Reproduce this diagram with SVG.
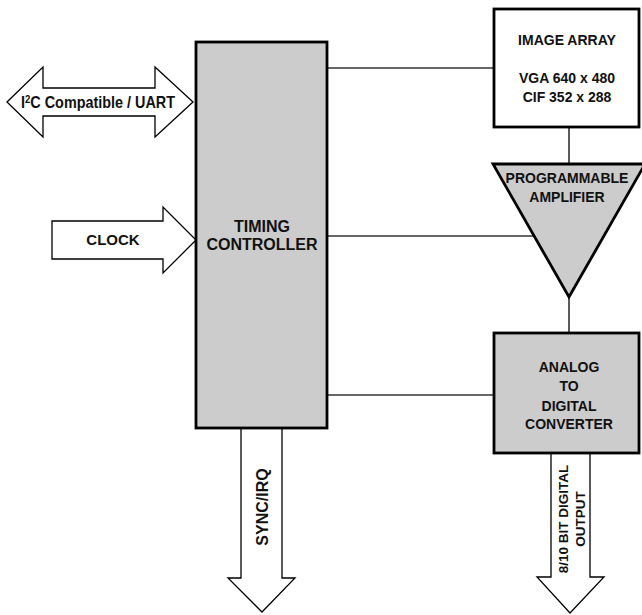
<svg xmlns="http://www.w3.org/2000/svg" width="642" height="615" viewBox="0 0 642 615">
<style>
text{font-family:"Liberation Sans",Arial,sans-serif;font-weight:bold;fill:#111;text-anchor:middle}
.box{stroke:#000;stroke-width:2.8}
.gray{fill:#cccccc}
.white{fill:#ffffff}
.arrow{fill:#ffffff;stroke:#000;stroke-width:1.3;stroke-linejoin:miter}
.wire{stroke:#333;stroke-width:1.6;fill:none}
.t14{font-size:14px}
</style>
<rect width="642" height="615" fill="#ffffff"/>
<g id="connectors">
<line class="wire" x1="327" y1="68" x2="494" y2="68"/>
<line class="wire" x1="327" y1="236" x2="533" y2="236"/>
<line class="wire" x1="327" y1="395" x2="494" y2="395"/>
<line class="wire" x1="569" y1="127" x2="569" y2="164"/>
<line class="wire" x1="569" y1="297" x2="569" y2="333"/>
</g>
<g id="i2c">
<polygon class="arrow" points="7,102 43,67 43,88 155,88 155,67 193,102 155,137 155,116 43,116 43,137"/>
<text x="98" y="108" font-size="16.5" textLength="154" lengthAdjust="spacingAndGlyphs">I<tspan font-size="11" dy="-5">2</tspan><tspan dy="5">C Compatible / UART</tspan></text>
</g>
<g id="clock">
<polygon class="arrow" points="52,221 163,221 163,207 196,240 163,273 163,259 52,259"/>
<text x="113" y="245" font-size="15">CLOCK</text>
</g>
<g id="sync">
<polygon class="arrow" points="241,428 282,428 282,578 295,578 262,612 228,578 241,578"/>
<text transform="translate(268,507) rotate(-90)" font-size="16">SYNC/IRQ</text>
</g>
<g id="output">
<polygon class="arrow" points="551,453 590,453 590,577 604,577 570,613 537,577 551,577"/>
<text transform="translate(568,519) rotate(-90)" font-size="13.5">8/10 BIT DIGITAL</text>
<text transform="translate(585,519) rotate(-90)" font-size="13.5">OUTPUT</text>
</g>
<g id="timing-controller">
<rect class="box gray" x="196" y="42" width="131" height="386"/>
<text x="262" y="232" font-size="16">TIMING</text>
<text x="262" y="250" font-size="16">CONTROLLER</text>
</g>
<g id="image-array">
<rect class="box white" x="494" y="9" width="145" height="118"/>
<text class="t14" x="567" y="45">IMAGE ARRAY</text>
<text class="t14" x="567" y="83">VGA 640 x 480</text>
<text class="t14" x="567" y="102">CIF 352 x 288</text>
</g>
<g id="amplifier">
<polygon class="box gray" points="493,164 645,164 569,297"/>
<text class="t14" x="567" y="183">PROGRAMMABLE</text>
<text class="t14" x="567" y="202">AMPLIFIER</text>
</g>
<g id="adc">
<rect class="box gray" x="494" y="333" width="145" height="120"/>
<text class="t14" x="569" y="372">ANALOG</text>
<text class="t14" x="569" y="391">TO</text>
<text class="t14" x="569" y="411">DIGITAL</text>
<text class="t14" x="569" y="429">CONVERTER</text>
</g>
</svg>
